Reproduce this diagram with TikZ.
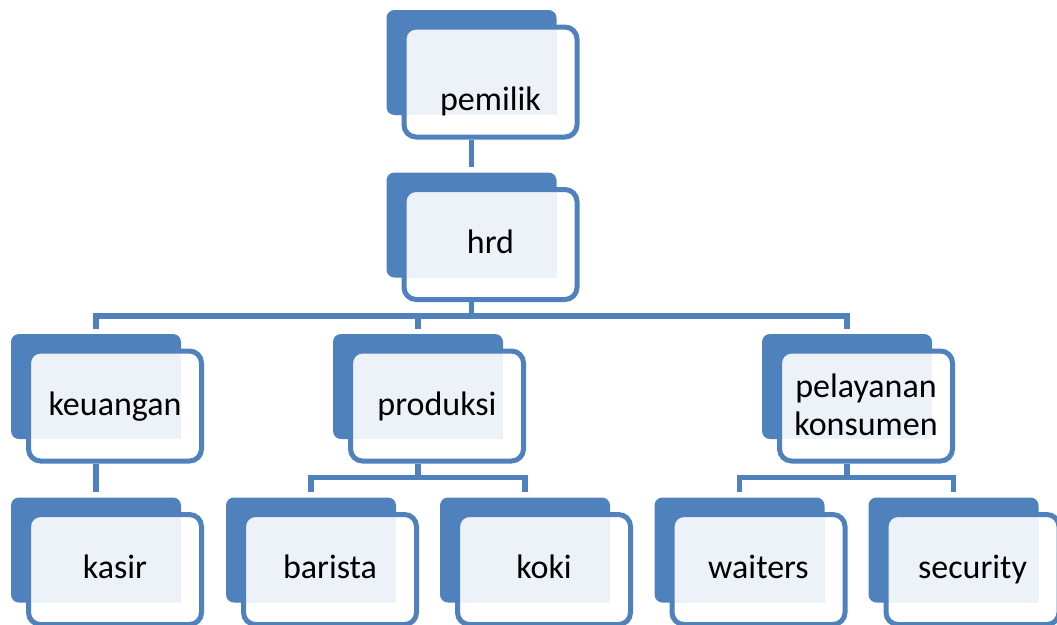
\documentclass[tikz,border=0pt]{standalone}
\usepackage{fontspec}
\setmainfont{Carlito}
\usetikzlibrary{calc}
\usetikzlibrary{positioning}
\definecolor{smartblue}{HTML}{4F81BD}
\definecolor{smartlight}{HTML}{EDF2F9}

\begin{document}
\begin{tikzpicture}[
		x=1pt,y=-1pt,
		back/.style={fill=smartblue,rectangle,rounded corners=8pt,inner sep=0pt,minimum width=170pt,minimum height=105pt},
		front/.style={draw=smartblue,fill=white,line width=5pt,rectangle,rounded corners=12pt,inner sep=0pt,minimum width=173pt,minimum height=110pt,font=\fontsize{34}{38}\selectfont,text height=18pt,text depth=0pt,
			path picture={\fill[smartlight,sharp corners] (path picture bounding box.north west) rectangle (#1.south east);}},
		link/.style={draw=smartblue,line width=5.5pt,shorten >=5pt}
	]
		\useasboundingbox (0,0) rectangle (1057,624);

		\node [back] (pemilik_back) at (471.5,62.5) {};
		\node [front=pemilik_back] (pemilik) at ($(pemilik_back)+(19,19.5)$) {\raisebox{-19pt}{pemilik}};

		\node [back] (hrd_back) at (471.5,225) {};
		\node [front=hrd_back] (hrd) at ($(hrd_back)+(19,19.5)$) {hrd};

		\node [back] (keuangan_back) at (96,386.5) {};
		\node [front=keuangan_back] (keuangan) at ($(keuangan_back)+(19,19.5)$) {keuangan};
		\node [back] (produksi_back) at (418,386.5) {};
		\node [front=produksi_back] (produksi) at ($(produksi_back)+(19,19.5)$) {produksi};
		\node [back] (pelayanan_back) at (847,386.5) {};
		\node [front=pelayanan_back] (pelayanan) at ($(pelayanan_back)+(19,19.5)$)
			{\raisebox{-20pt}{\begin{tabular}[b]{@{}c@{}}pelayanan\\konsumen\end{tabular}}};

		\node [back] (kasir_back) at (96,550) {};
		\node [front=kasir_back] (kasir) at ($(kasir_back)+(19,19.5)$) {kasir};
		\node [back] (barista_back) at (311,550) {};
		\node [front=barista_back] (barista) at ($(barista_back)+(19,19.5)$) {barista};
		\node [back] (koki_back) at (525,550) {};
		\node [front=koki_back] (koki) at ($(koki_back)+(19,19.5)$) {koki};
		\node [back] (waiters_back) at (739.5,550) {};
		\node [front=waiters_back] (waiters) at ($(waiters_back)+(19,19.5)$) {waiters};
		\node [back] (security_back) at (953.5,550) {};
		\node [front=security_back] (security) at ($(security_back)+(19,19.5)$) {security};

		\draw [link] (pemilik_back |- pemilik.south) -- (hrd_back.north);

		\draw [link] (hrd_back |- hrd.south) -- ++(0,14) -| (keuangan_back.north);
		\draw [link] (hrd_back |- hrd.south) -- ++(0,14) -| (produksi_back.north);
		\draw [link] (hrd_back |- hrd.south) -- ++(0,14) -| (pelayanan_back.north);

		\draw [link] (keuangan_back |- keuangan.south) -- (kasir_back.north);
		\draw [link] (produksi_back |- produksi.south) -- ++(0,14) -| (barista_back.north);
		\draw [link] (produksi_back |- produksi.south) -- ++(0,14) -| (koki_back.north);
		\draw [link] (pelayanan_back |- pelayanan.south) -- ++(0,14) -| (waiters_back.north);
		\draw [link] (pelayanan_back |- pelayanan.south) -- ++(0,14) -| (security_back.north);
	\end{tikzpicture}
\end{document}
